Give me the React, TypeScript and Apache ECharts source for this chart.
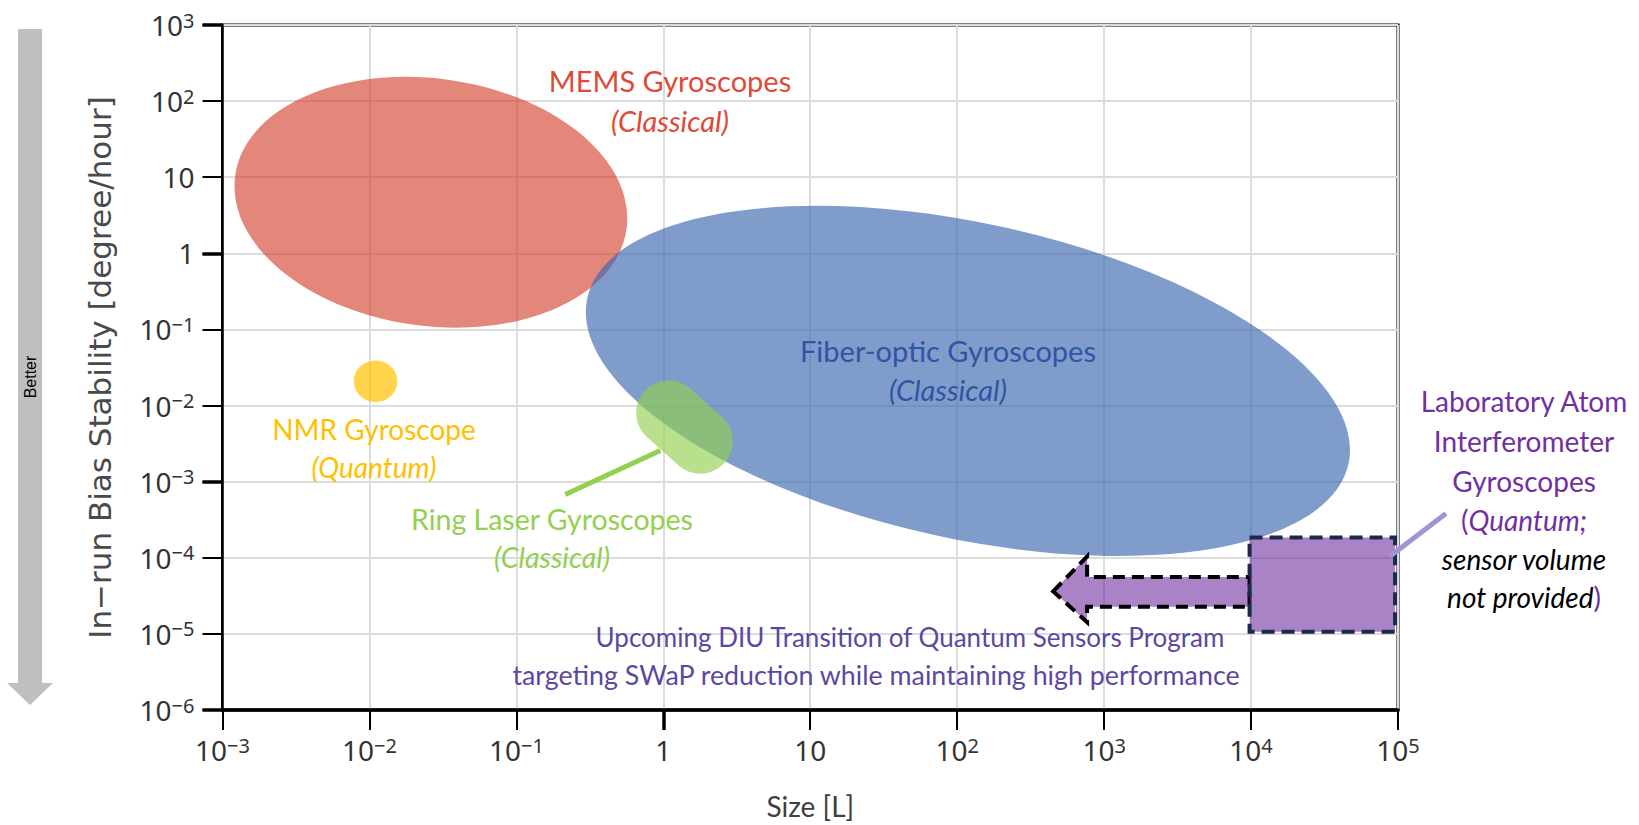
import React, { useEffect, useRef } from "react";
import * as echarts from "echarts";

// ---------- axes ----------
const xTickExponents = [-3, -2, -1, 0, 1, 2, 3, 4, 5];
const yTickExponents = [-6, -5, -4, -3, -2, -1, 0, 1, 2, 3];
const xBoldTicks = [1];
const yBoldTicks = [1e-6, 1e-3, 1, 1e3];
const xAxisTitle = "Size [L]";
const yAxisTitle = "In\u2212run Bias Stability [degree/hour]";

// ---------- elliptical regions (centre, half-extent in decades, tilt) ----------
const ellipseNames = ["MEMS Gyroscopes", "Fiber-optic Gyroscopes", "NMR Gyroscope"];
const ellipseCenterX = [0.0262, 118.3, 0.011];
const ellipseCenterY = [4.69, 0.0211, 0.0208];
const ellipseHalfDecadesX = [1.344, 2.651, 0.148];
const ellipseHalfDecadesY = [1.625, 2.073, 0.273];
const ellipseTiltDeg = [-7.7, -12.3, 0];

// ---------- ring laser capsule (end-cap centres) ----------
const ringLaserX = [1.086, 1.786];
const ringLaserY = [8.02e-3, 3.4e-3];

// ---------- laboratory atom interferometer box ----------
const atomBoxX = [9.77e3, 9.55e4];
const atomBoxY = [1.07e-5, 1.84e-4];

// ---------- DIU transition arrow outline ----------
const arrowX = [450, 766, 766, 9.77e3, 9.77e3, 766, 766];
const arrowY = [3.62e-5, 1.04e-4, 5.58e-5, 5.58e-5, 2.28e-5, 2.28e-5, 1.42e-5];

// ---------- leader lines ----------
const greenLeaderX = [0.215, 0.955];
const greenLeaderY = [6.79e-4, 2.56e-3];
const purpleLeaderX = [8.83e4, 2.12e5];
const purpleLeaderY = [1.05e-4, 3.83e-4];

// ---------- styles ----------
const ellipseFills = [
  "rgba(210, 62, 40, 0.62)",
  "rgba(58, 103, 175, 0.65)",
  "rgba(255, 192, 0, 0.7)",
];
const ringFill = "rgba(146, 208, 80, 0.65)";
const purpleFill = "rgba(112, 48, 160, 0.6)";
const labelFont = "Lato, 'Open Sans', sans-serif";
const axisFont = "'Noto Sans', 'Open Sans', sans-serif";

const supText = (e: number) => (e < 0 ? "\u2212" + -e : String(e));
const tickFormatter = (v: number) => {
  const e = Math.round(Math.log10(v));
  if (e === 0) return "{b|1}";
  if (e === 1) return "{b|10}";
  return "{b|10}{s|" + supText(e) + "}";
};
const tickRich = {
  b: { fontFamily: axisFont, fontSize: 28, color: "#333", lineHeight: 30 },
  s: { fontFamily: axisFont, fontSize: 20, color: "#333", lineHeight: 20, verticalAlign: "top" },
};

function txt(x: number, y: number, text: string, fill: string, size: number, italic = false, extra: any = {}) {
  return {
    type: "text",
    x,
    y,
    z: 100,
    style: {
      text,
      fill,
      fontSize: size,
      fontFamily: labelFont,
      fontStyle: italic ? "italic" : "normal",
      textAlign: "center",
      textVerticalAlign: "middle",
      align: "center",
      verticalAlign: "middle",
      ...extra,
    },
  };
}

export default function App() {
  const ref = useRef<HTMLDivElement>(null);
  useEffect(() => {
    document.body.style.margin = "0";
    const chart = echarts.init(ref.current!, undefined, { renderer: "svg" });
    const lab = "#7030A0";
    const labRich = {
      n: { fill: lab, fontSize: 28, fontFamily: labelFont, fontStyle: "normal" },
      i: { fill: lab, fontSize: 28, fontFamily: labelFont, fontStyle: "italic" },
      k: { fill: "#000", fontSize: 28, fontFamily: labelFont, fontStyle: "italic" },
    };
    const option: any = {
      animation: false,
      grid: {
        left: 222.5,
        top: 25,
        width: 1175.5,
        height: 686.5,
        show: true,
        borderColor: "#000",
        borderWidth: 3,
        backgroundColor: "transparent",
      },
      xAxis: [
        {
          type: "log",
          logBase: 10,
          min: 1e-3,
          max: 1e5,
          position: "bottom",
          name: xAxisTitle,
          nameLocation: "middle",
          nameGap: 82,
          nameTextStyle: { fontFamily: labelFont, fontSize: 28, color: "#404040" },
          axisLine: { onZero: false, lineStyle: { color: "#000", width: 3.5 } },
          axisTick: { show: true, inside: false, length: 20, lineStyle: { color: "#000", width: 2 } },
          axisLabel: {
            margin: 25,
            formatter: (v: number) => (xTickExponents.includes(Math.round(Math.log10(v))) ? tickFormatter(v) : ""),
            rich: tickRich,
          },
          splitLine: { show: true, lineStyle: { color: "#DCDCDC", width: 2 } },
          minorTick: { show: false },
        },
        {
          type: "log",
          logBase: 10,
          min: 1e-3,
          max: 1e5,
          position: "bottom",
          axisLine: { show: false, onZero: false },
          axisTick: { show: true, length: 20, customValues: xBoldTicks, lineStyle: { color: "#000", width: 3.5 } },
          axisLabel: { show: false },
          splitLine: { show: false },
        },
      ],
      yAxis: [
        {
          type: "log",
          logBase: 10,
          min: 1e-6,
          max: 1e3,
          position: "left",
          name: yAxisTitle,
          nameLocation: "middle",
          nameGap: 107,
          nameTextStyle: { fontFamily: "'DejaVu Sans', 'Noto Sans', sans-serif", fontSize: 31, color: "#4a4a4a" },
          axisLine: { onZero: false, lineStyle: { color: "#000", width: 2.5 } },
          axisTick: { show: true, inside: false, length: 20, lineStyle: { color: "#000", width: 2 } },
          axisLabel: {
            margin: 28,
            formatter: (v: number) => (yTickExponents.includes(Math.round(Math.log10(v))) ? tickFormatter(v) : ""),
            rich: tickRich,
          },
          splitLine: { show: true, lineStyle: { color: "#DCDCDC", width: 2 } },
          minorTick: { show: false },
        },
        {
          type: "log",
          logBase: 10,
          min: 1e-6,
          max: 1e3,
          position: "left",
          axisLine: { show: false, onZero: false },
          axisTick: { show: true, length: 20, customValues: yBoldTicks, lineStyle: { color: "#000", width: 3.5 } },
          axisLabel: { show: false },
          splitLine: { show: false },
        },
      ],
      series: [
        {
          type: "custom",
          name: "regions",
          silent: true,
          coordinateSystem: "cartesian2d",
          data: ellipseNames.map((_, i) => [ellipseCenterX[i], ellipseCenterY[i], i]),
          renderItem: (_p: any, api: any) => {
            const i = api.value(2);
            const cx = ellipseCenterX[i];
            const cy = ellipseCenterY[i];
            const c = api.coord([cx, cy]);
            const px = api.coord([cx * Math.pow(10, ellipseHalfDecadesX[i]), cy]);
            const py = api.coord([cx, cy * Math.pow(10, ellipseHalfDecadesY[i])]);
            return {
              type: "ellipse",
              x: c[0],
              y: c[1],
              rotation: (ellipseTiltDeg[i] * Math.PI) / 180,
              shape: { cx: 0, cy: 0, rx: px[0] - c[0], ry: c[1] - py[1] },
              style: { fill: ellipseFills[i] },
            };
          },
          z: 3,
        },
        {
          type: "custom",
          name: "ring laser",
          silent: true,
          coordinateSystem: "cartesian2d",
          data: [[ringLaserX[0], ringLaserY[0]]],
          renderItem: (_p: any, api: any) => {
            const a = api.coord([ringLaserX[0], ringLaserY[0]]);
            const b = api.coord([ringLaserX[1], ringLaserY[1]]);
            const g = api.coord([greenLeaderX[0], greenLeaderY[0]]);
            const h = api.coord([greenLeaderX[1], greenLeaderY[1]]);
            return {
              type: "group",
              children: [
                {
                  type: "line",
                  shape: { x1: g[0], y1: g[1], x2: h[0], y2: h[1] },
                  style: { stroke: "#92D050", lineWidth: 5 },
                },
                {
                  type: "line",
                  shape: { x1: a[0], y1: a[1], x2: b[0], y2: b[1] },
                  style: { stroke: ringFill, lineWidth: 65, lineCap: "round" },
                },
              ],
            };
          },
          z: 4,
        },
        {
          type: "custom",
          name: "DIU arrow",
          silent: true,
          coordinateSystem: "cartesian2d",
          data: [[arrowX[0], arrowY[0]]],
          renderItem: (_p: any, api: any) => {
            const pts = arrowX.map((x, i) => api.coord([x, arrowY[i]]));
            return {
              type: "polygon",
              shape: { points: pts },
              style: { fill: purpleFill, stroke: "#000", lineWidth: 4, lineDash: [12, 7] },
            };
          },
          z: 5,
        },
        {
          type: "custom",
          name: "atom box",
          silent: true,
          coordinateSystem: "cartesian2d",
          data: [[atomBoxX[0], atomBoxY[0]]],
          renderItem: (_p: any, api: any) => {
            const p0 = api.coord([atomBoxX[0], atomBoxY[1]]);
            const p1 = api.coord([atomBoxX[1], atomBoxY[0]]);
            const l0 = api.coord([purpleLeaderX[0], purpleLeaderY[0]]);
            const l1 = api.coord([purpleLeaderX[1], purpleLeaderY[1]]);
            return {
              type: "group",
              children: [
                {
                  type: "rect",
                  shape: { x: p0[0], y: p0[1], width: p1[0] - p0[0], height: p1[1] - p0[1] },
                  style: { fill: purpleFill, stroke: "#1B2A4A", lineWidth: 4, lineDash: [13, 7] },
                },
                {
                  type: "line",
                  shape: { x1: l0[0], y1: l0[1], x2: l1[0], y2: l1[1] },
                  style: { stroke: "#A194D4", lineWidth: 5 },
                },
              ],
            };
          },
          z: 6,
        },
      ],
      graphic: [
        {
          type: "polygon",
          shape: {
            points: [
              [18, 29],
              [42, 29],
              [42, 683],
              [53, 683],
              [30, 705],
              [7, 683],
              [18, 683],
            ],
          },
          style: { fill: "#BFBFBF" },
        },
        {
          type: "text",
          x: 30,
          y: 377,
          rotation: Math.PI / 2,
          style: {
            text: "Better",
            fill: "#000",
            fontSize: 16,
            fontFamily: "'Liberation Sans', Arial, sans-serif",
            textAlign: "center",
            textVerticalAlign: "middle",
            align: "center",
            verticalAlign: "middle",
          },
        },
        txt(670, 80, "MEMS Gyroscopes", "#DF4A36", 29),
        txt(670, 120, "(Classical)", "#DF4A36", 29, true),
        txt(948, 350, "Fiber-optic Gyroscopes", "#2F55A4", 29),
        txt(948, 389, "(Classical)", "#2F55A4", 29, true),
        txt(374, 429, "NMR Gyroscope", "#FFC000", 28),
        txt(374, 467, "(Quantum)", "#FFC000", 28, true),
        txt(552, 519, "Ring Laser Gyroscopes", "#92D050", 28.5),
        txt(552, 557, "(Classical)", "#92D050", 28.5, true),
        txt(910, 637, "Upcoming DIU Transition of Quantum Sensors Program", "#5C48A0", 26),
        txt(876, 675, "targeting SWaP reduction while maintaining high performance", "#5C48A0", 26.8),
        txt(1524, 401, "Laboratory Atom", lab, 28),
        txt(1524, 441, "Interferometer", lab, 28),
        txt(1524, 481, "Gyroscopes", lab, 28),
        txt(1524, 520, "{n|(}{i|Quantum;}", lab, 28, false, { rich: labRich }),
        txt(1524, 559, "{k|sensor volume}", "#000", 28, true, { rich: labRich }),
        txt(1524, 597, "{k|not provided}{n|)}", "#000", 28, true, { rich: labRich }),
      ],
    };
    chart.setOption(option);
    return () => chart.dispose();
  }, []);
  return <div ref={ref} style={{ position: "absolute", left: 0, top: 0, width: 1639, height: 825 }} />;
}
